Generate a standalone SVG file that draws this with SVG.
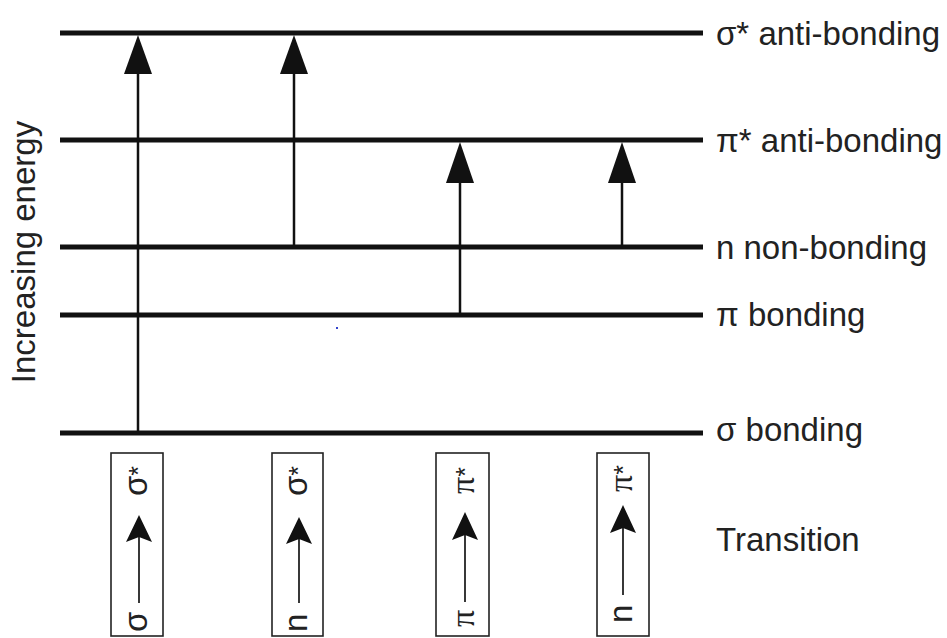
<svg xmlns="http://www.w3.org/2000/svg" width="947" height="638" viewBox="0 0 947 638">
<style>
.lvl{stroke:#111;stroke-width:5;fill:none}
.shaft{stroke:#111;stroke-width:2.5;fill:none}
.head{fill:#111}
.lbl{font-family:"Liberation Sans",Arial,sans-serif;font-size:33px;fill:#222}
.box{fill:#fff;stroke:#222;stroke-width:1.6}
.sym{font-family:"Liberation Sans",Arial,sans-serif;font-size:33px;fill:#222}
.pi{font-family:"Liberation Serif","DejaVu Serif",serif;font-size:34px;fill:#222}
.ast{font-family:"Liberation Sans",Arial,sans-serif;font-size:25px}
.bshaft{stroke:#222;stroke-width:1.8;fill:none}
</style>
<rect width="947" height="638" fill="#fff"/>
<g id="levels">
<line class="lvl" x1="60" y1="33" x2="703" y2="33"/>
<line class="lvl" x1="60" y1="140" x2="703" y2="140"/>
<line class="lvl" x1="60" y1="247" x2="703" y2="247"/>
<line class="lvl" x1="60" y1="315" x2="703" y2="315"/>
<line class="lvl" x1="60" y1="433" x2="703" y2="433"/>
</g>
<g id="level-labels" class="lbl">
<text x="716" y="45">σ* anti-bonding</text>
<text x="716" y="152">π* anti-bonding</text>
<text x="716" y="259">n non-bonding</text>
<text x="716" y="326">π bonding</text>
<text x="716" y="441">σ bonding</text>
<text x="716" y="551">Transition</text>
<text transform="translate(35,252) rotate(-90)" text-anchor="middle">Increasing energy</text>
</g>
<g id="connectors">
<line class="shaft" x1="138" y1="431" x2="138" y2="70"/>
<polygon class="head" points="138,35 152,74 124,74"/>
<line class="shaft" x1="294" y1="245" x2="294" y2="70"/>
<polygon class="head" points="294,35 308,74 280,74"/>
<line class="shaft" x1="460" y1="313" x2="460" y2="178"/>
<polygon class="head" points="460,142 474,183 446,183"/>
<line class="shaft" x1="622" y1="245" x2="622" y2="178"/>
<polygon class="head" points="622,142 636,183 608,183"/>
</g>
<g id="t1">
<rect class="box" x="111" y="453" width="52" height="183"/>
<line class="bshaft" x1="139" y1="603" x2="139" y2="530"/>
<polygon class="head" points="139,515 152,542 139,537 126,542"/>
<text class="sym" transform="translate(147,632) rotate(-90)">σ</text>
<text class="sym" transform="translate(147,496) rotate(-90)">σ<tspan class="ast">*</tspan></text>
</g>
<g id="t2">
<rect class="box" x="272" y="453" width="51" height="183"/>
<line class="bshaft" x1="299" y1="603" x2="299" y2="532"/>
<polygon class="head" points="299,517 312,544 299,539 286,544"/>
<text class="sym" transform="translate(307,632) rotate(-90)">n</text>
<text class="sym" transform="translate(307,496) rotate(-90)">σ<tspan class="ast">*</tspan></text>
</g>
<g id="t3">
<rect class="box" x="436" y="453" width="53" height="183"/>
<line class="bshaft" x1="465" y1="602" x2="465" y2="527"/>
<polygon class="head" points="465,512 478,540 465,535 452,540"/>
<text class="pi" transform="translate(474,627) rotate(-90)">π</text>
<text class="pi" transform="translate(474,494) rotate(-90)">π<tspan class="ast">*</tspan></text>
</g>
<g id="t4">
<rect class="box" x="597" y="453" width="52" height="183"/>
<line class="bshaft" x1="623" y1="595" x2="623" y2="520"/>
<polygon class="head" points="623,505 636,533 623,528 610,533"/>
<text class="sym" transform="translate(632,623) rotate(-90)">n</text>
<text class="pi" transform="translate(632,492) rotate(-90)">π<tspan class="ast">*</tspan></text>
</g>
<rect x="336" y="327" width="2" height="2" fill="#3344cc"/>
</svg>
